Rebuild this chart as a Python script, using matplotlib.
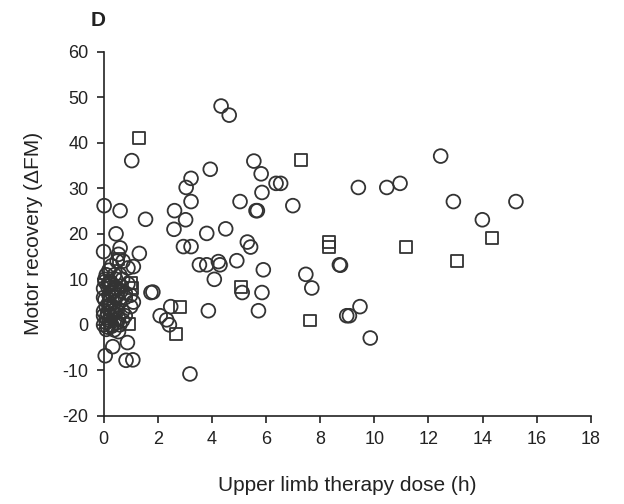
import matplotlib
matplotlib.use("Agg")
import matplotlib.pyplot as plt

# circles (one group of patients)
circ_x = [4.34, 4.64, 5.55, 5.82, 6.37, 6.54, 3.94, 3.23, 3.05, 3.23, 5.85, 5.04,
          5.63, 5.68, 6.99, 2.62, 3.03, 2.60, 1.55, 3.81, 4.51, 5.31, 5.43, 2.95,
          3.23, 8.71, 8.75, 3.54, 3.81, 4.24, 4.30, 4.92, 4.09, 5.90, 7.47, 7.69,
          5.12, 5.85, 1.82, 5.72, 3.87, 8.98, 2.48, 2.09, 2.33, 2.43, 3.19,
          12.45, 9.41, 10.46, 10.95, 12.92, 15.23, 13.99, 9.47, 9.08, 9.85,
          1.04, 0.02, 0.61, 0.46, 0.0, 0.61, 0.55, 0.50, 0.72, 0.30, 1.32, 1.10,
          0.90, 0.20, 0.0, 0.50, 0.30, 0.0, 0.20, 0.40, 0.60, 0.80, 0.10, 0.30,
          0.50, 0.70, 0.0, 0.20, 0.40, 0.0, 0.30, 0.60, 0.10, 0.39, 0.55, 0.80,
          1.10, 1.00, 1.75, 0.90, 0.70, 0.10, 0.40, 0.20, 0.80, 1.00, 0.88, 0.34,
          0.06, 0.83, 1.08, 0.0, 0.15, 0.25, 0.45, 0.65, 0.05, 0.35, 0.15,
          0.10, 0.25, 0.40, 0.55, 0.05, 0.20, 0.35, 0.50, 0.65, 0.15, 0.30,
          0.45, 0.60, 0.05, 0.25, 0.45, 0.10, 0.30, 0.50, 0.70, 0.20, 0.40]
circ_y = [48.1, 46.1, 36.0, 33.2, 31.1, 31.1, 34.2, 32.2, 30.2, 27.1, 29.1, 27.1,
          25.1, 25.1, 26.2, 25.1, 23.1, 21.0, 23.2, 20.1, 21.1, 18.2, 17.1, 17.2,
          17.2, 13.2, 13.1, 13.2, 13.2, 13.9, 13.2, 14.1, 10.0, 12.1, 11.1, 8.1,
          7.1, 7.1, 7.2, 3.1, 3.1, 2.0, 4.0, 2.0, 1.1, 0.0, -10.8,
          37.1, 30.2, 30.2, 31.1, 27.1, 27.1, 23.1, 4.0, 2.0, -2.9,
          36.1, 26.2, 25.1, 20.0, 16.1, 16.9, 15.5, 14.0, 14.0, 13.0, 15.7, 12.8,
          12.5, 9.0, 8.0, 8.0, 7.0, 6.0, 5.0, 5.0, 5.0, 6.0, 4.0, 3.0,
          3.0, 3.0, 2.0, 1.0, 1.0, 0.0, 0.0, 0.0, -1.0, -1.1, -1.5, 2.0,
          5.0, 4.0, 7.1, 9.0, 10.0, 11.0, 11.0, 12.0, 7.0, 6.5, -3.9, -4.8,
          -6.8, -7.8, -7.7, 3.0, 2.5, 9.5, 6.0, 8.5, 10.0, 4.0, -0.5,
          1.5, 2.0, 2.5, 1.5, 5.5, 6.5, 7.5, 6.5, 7.5, 8.5, 9.0,
          10.0, 11.0, 9.5, 4.5, 3.5, 0.5, -0.3, 0.5, 1.0, 3.8, 8.2]

# squares (second group)
sq_x = [1.32, 7.29, 8.34, 8.34, 5.08, 2.83, 7.63, 2.68, 14.36, 11.16, 13.04,
        1.00, 1.05, 0.95, 0.55]
sq_y = [41.0, 36.3, 18.3, 17.2, 8.3, 4.0, 0.95, -2.0, 19.0, 17.1, 14.1,
        9.2, 8.0, 0.2, 14.5]

x_ticks = list(range(0, 19, 2))
y_ticks = list(range(-20, 61, 10))

plt.rcParams["font.family"] = ["Liberation Sans", "DejaVu Sans"]
plt.rcParams["axes.unicode_minus"] = False
txt = "#222222"

fig = plt.figure(figsize=(6.24, 5.04), dpi=100)
ax = fig.add_axes([0.166, 0.175, 0.781, 0.722])

ax.scatter(circ_x, circ_y, s=98, marker="o", facecolors="none",
           edgecolors="#333333", linewidths=1.3, clip_on=False, zorder=3)
ax.scatter(sq_x, sq_y, s=74, marker="s", facecolors="none",
           edgecolors="#333333", linewidths=1.3, clip_on=False, zorder=3)

ax.set_xlim(0, 18)
ax.set_ylim(-20, 60)
ax.set_xticks(x_ticks)
ax.set_yticks(y_ticks)
for s in ["top", "right"]:
    ax.spines[s].set_visible(False)
for s in ["left", "bottom"]:
    ax.spines[s].set_linewidth(1.2)
    ax.spines[s].set_color("#222222")
ax.tick_params(direction="out", length=5, width=1.2, labelsize=13,
               colors="#222222", labelcolor=txt, pad=6)

ax.set_xlabel("Upper limb therapy dose (h)", fontsize=15, color=txt, labelpad=20)
ax.set_ylabel("Motor recovery (\u0394FM)", fontsize=15, color=txt, labelpad=14)

fig.text(0.157, 0.96, "D", fontsize=15, fontweight="bold", color=txt,
         ha="center", va="center")

fig.savefig("out.png", dpi=100)
